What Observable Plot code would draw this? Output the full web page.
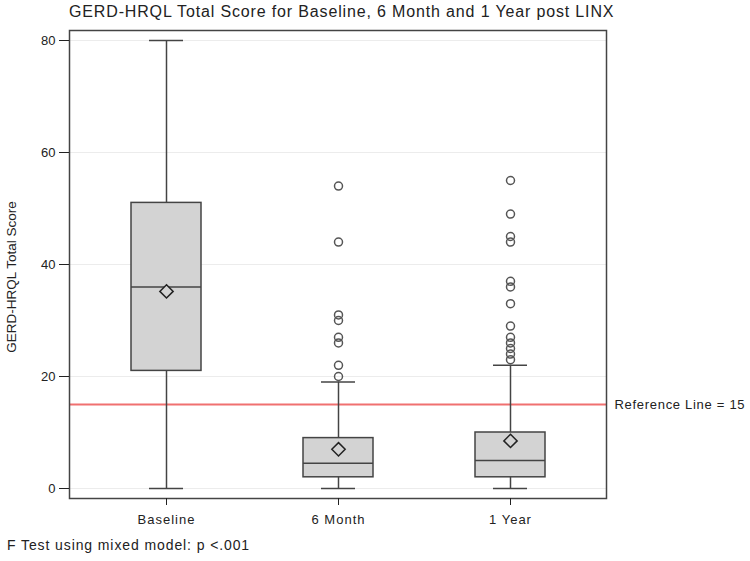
<!DOCTYPE html>
<html>
<head>
<meta charset="utf-8">
<script src="https://cdn.jsdelivr.net/npm/d3@7"></script>
<script src="https://cdn.jsdelivr.net/npm/@observablehq/plot@0.6"></script>
<style>
  html, body { margin: 0; padding: 0; background: #fff; }
  #wrap { position: relative; width: 750px; height: 561px; font-family: "Liberation Sans", Arial, sans-serif; color: #222; }
  #title { position: absolute; left: 69px; width: 537px; top: 3px; text-align: center; font-size: 16px; letter-spacing: 0.85px; white-space: nowrap; }
  #foot { position: absolute; left: 7px; top: 537px; font-size: 14px; letter-spacing: 0.9px; white-space: nowrap; }
  #ylab { position: absolute; left: 11px; top: 277px; transform: translate(-50%, -50%) rotate(-90deg); font-size: 13.5px; white-space: nowrap; }
  #chart { position: absolute; left: 0; top: 0; }
</style>
</head>
<body>
<div id="wrap">
  <div id="chart"></div>
  <div id="title">GERD-HRQL Total Score for Baseline, 6 Month and 1 Year post LINX</div>
  <div id="ylab"></div>
  <div id="foot">F Test using mixed model: p &lt;.001</div>
</div>
<script>
const categories = ["Baseline", "6 Month", "1 Year"];
const whiskerLow = [0, 0, 0];
const q1 = [21, 2, 2];
const median = [36, 4.5, 5];
const q3 = [51, 9, 10];
const whiskerHigh = [80, 19, 22];
const means = [35.2, 7, 8.5];
const outliersBaseline = [];
const outliers6Month = [54, 44, 31, 30, 27, 26, 22, 20];
const outliers1Year = [55, 49, 45, 44, 37, 36, 33, 29, 27, 26, 25, 24, 23];
const yTicks = [0, 20, 40, 60, 80];
const referenceValue = 15;
const yLabel = "GERD-HRQL Total Score";

document.getElementById("ylab").textContent = yLabel;

const boxes = categories.map((c, i) => ({
  cat: c, lo: whiskerLow[i], q1: q1[i], med: median[i], q3: q3[i], hi: whiskerHigh[i], mean: means[i]
}));
const outlierLists = [outliersBaseline, outliers6Month, outliers1Year];
const outliers = categories.flatMap((c, i) => outlierLists[i].map(v => ({cat: c, v})));

const ink = "#444";
const chart = Plot.plot({
  width: 750,
  height: 561,
  marginLeft: 69,
  marginRight: 144,
  marginTop: 30,
  marginBottom: 63,
  style: {fontFamily: "'Liberation Sans', Arial, sans-serif", fontSize: "13px", color: "#222", background: "white"},
  x: {type: "band", domain: categories, paddingInner: 0.595, paddingOuter: 0.35},
  y: {domain: [0, 80], insetTop: 10, insetBottom: 10},
  marks: [
    Plot.ruleY(yTicks, {stroke: "#ececec", strokeWidth: 1}),
    Plot.ruleY([referenceValue], {stroke: "#f07070", strokeWidth: 2}),
    Plot.ruleX(boxes, {x: "cat", y1: "lo", y2: "q1", stroke: ink, strokeWidth: 1.5}),
    Plot.ruleX(boxes, {x: "cat", y1: "q3", y2: "hi", stroke: ink, strokeWidth: 1.5}),
    Plot.tickY(boxes, {x: "cat", y: "lo", stroke: ink, strokeWidth: 1.5, insetLeft: 18, insetRight: 18}),
    Plot.tickY(boxes, {x: "cat", y: "hi", stroke: ink, strokeWidth: 1.5, insetLeft: 18, insetRight: 18}),
    Plot.barY(boxes, {x: "cat", y1: "q1", y2: "q3", fill: "#d3d3d3", stroke: ink, strokeWidth: 1.5}),
    Plot.tickY(boxes, {x: "cat", y: "med", stroke: ink, strokeWidth: 1.5}),
    Plot.dot(boxes, {x: "cat", y: "mean", symbol: "diamond2", r: 6, stroke: "#222", fill: "#d3d3d3", strokeWidth: 1.5}),
    Plot.dot(outliers, {x: "cat", y: "v", r: 4, stroke: "#555", fill: "none", strokeWidth: 1.5}),
    Plot.frame({stroke: ink, strokeWidth: 1.5}),
    Plot.axisX({tickSize: 7, tickPadding: 9, label: null, fontSize: 13, style: "letter-spacing:1px"}),
    Plot.axisY({ticks: yTicks, tickSize: 10, tickPadding: 4, label: null, fontSize: 13}),
    Plot.text([referenceValue], {y: d => d, text: d => `Reference Line = ${d}`, frameAnchor: "right", dx: 8, textAnchor: "start", fontSize: 13, fill: "#222"})
  ]
});
chart.querySelectorAll("text").forEach(t => {
  if (t.textContent.startsWith("Reference")) t.setAttribute("letter-spacing", "0.7");
});
chart.querySelectorAll("g[aria-label='x-axis tick label'] text").forEach(t => t.setAttribute("letter-spacing", "1"));
document.getElementById("chart").appendChild(chart);
</script>
</body>
</html>
